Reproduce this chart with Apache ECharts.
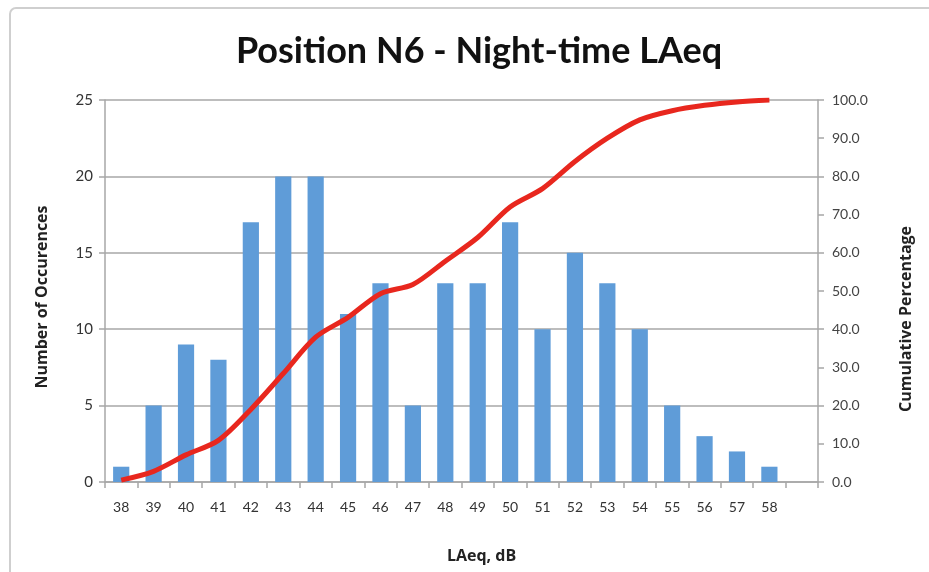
<!DOCTYPE html>
<html>
<head>
<meta charset="utf-8">
<title>Position N6 - Night-time LAeq</title>
<script src="https://cdn.jsdelivr.net/npm/echarts@6/dist/echarts.min.js"></script>
<style>
  html, body { margin: 0; padding: 0; background: #ffffff; }
  #chart { width: 929px; height: 572px; }
</style>
</head>
<body>
<div id="chart"></div>
<script>
// LAeq bins (dB); the trailing empty slot leaves room after the last bin
const levels = ['38', '39', '40', '41', '42', '43', '44', '45', '46', '47', '48',
                '49', '50', '51', '52', '53', '54', '55', '56', '57', '58', ''];

// Number of night-time periods in each LAeq bin
const occurrences = [1, 5, 9, 8, 17, 20, 20, 11, 13, 5, 13,
                     13, 17, 10, 15, 13, 10, 5, 3, 2, 1, '-'];

// Cumulative percentage of all periods up to each bin
const cumulative = [0.5, 2.8, 7.1, 10.9, 19.0, 28.4, 37.9, 43.1, 49.3, 51.7, 57.8,
                    64.0, 72.0, 76.8, 83.9, 90.0, 94.8, 97.2, 98.6, 99.5, 100.0, '-'];

// Axis tick settings
const countTicks = { min: 0, max: 25, interval: 5 };
const percentTicks = { min: 0, max: 100, interval: 10 };

const font = 'Lato, "Open Sans", sans-serif';
const nameFont = '"Open Sans", Lato, sans-serif';
const axisGrey = '#a7a7a7';

const chart = echarts.init(document.getElementById('chart'), null, { renderer: 'canvas' });

chart.setOption({
  backgroundColor: '#ffffff',
  animation: false,
  graphic: [{
    type: 'rect',
    silent: true,
    shape: { x: 10, y: 8, width: 940, height: 600, r: 6 },
    style: { fill: 'none', stroke: '#cfcfcf', lineWidth: 2 }
  }],
  title: {
    text: 'Position N6 - Night-time LAeq',
    left: 474,
    textAlign: 'center',
    top: 28,
    textStyle: { fontFamily: font, fontSize: 36, fontWeight: 'bold', color: '#111111' }
  },
  grid: { left: 105, right: 111, top: 100, bottom: 90 },
  xAxis: {
    type: 'category',
    data: levels,
    boundaryGap: true,
    name: 'LAeq, dB',
    nameLocation: 'middle',
    nameGap: 66,
    nameTextStyle: { fontFamily: nameFont, fontSize: 16, fontWeight: 'bold', color: '#222222', padding: [0, 0, 0, 40] },
    axisLine: { lineStyle: { color: axisGrey, width: 1.5 } },
    axisTick: { show: true, alignWithLabel: false, length: 6, lineStyle: { color: axisGrey, width: 1.5 } },
    axisLabel: { fontFamily: font, fontSize: 14, color: '#333333', margin: 18, interval: 0 },
    splitLine: { show: false }
  },
  yAxis: [{
    type: 'value',
    min: countTicks.min,
    max: countTicks.max,
    interval: countTicks.interval,
    name: 'Number of Occurences',
    nameLocation: 'middle',
    nameGap: 55,
    nameRotate: 90,
    nameTextStyle: { fontFamily: nameFont, fontSize: 16, fontWeight: 'bold', color: '#222222', padding: [0, 12, 0, 0] },
    axisLine: { show: true, lineStyle: { color: axisGrey, width: 1.5 } },
    axisTick: { show: true, length: 6, lineStyle: { color: axisGrey, width: 1.5 } },
    axisLabel: { fontFamily: font, fontSize: 15, color: '#333333', margin: 12 },
    splitLine: { show: true, lineStyle: { color: axisGrey, width: 1.5 } }
  }, {
    type: 'value',
    position: 'right',
    min: percentTicks.min,
    max: percentTicks.max,
    interval: percentTicks.interval,
    name: 'Cumulative Percentage',
    nameLocation: 'middle',
    nameGap: 80,
    nameRotate: 90,
    nameTextStyle: { fontFamily: nameFont, fontSize: 16, fontWeight: 'bold', color: '#222222', padding: [0, 56, 0, 0] },
    axisLine: { show: true, lineStyle: { color: axisGrey, width: 1.5 } },
    axisTick: { show: true, length: 6, lineStyle: { color: axisGrey, width: 1.5 } },
    axisLabel: {
      fontFamily: font, fontSize: 14, color: '#444444', margin: 14,
      formatter: v => v.toFixed(1)
    },
    splitLine: { show: false }
  }],
  series: [{
    name: 'Occurrences',
    type: 'bar',
    yAxisIndex: 0,
    data: occurrences,
    barWidth: '50%',
    itemStyle: { color: '#5f9cd8' }
  }, {
    name: 'Cumulative %',
    type: 'line',
    yAxisIndex: 1,
    data: cumulative,
    smooth: 0.3,
    symbol: 'none',
    lineStyle: { color: '#e8271e', width: 5 },
    z: 5
  }]
});
</script>
</body>
</html>
